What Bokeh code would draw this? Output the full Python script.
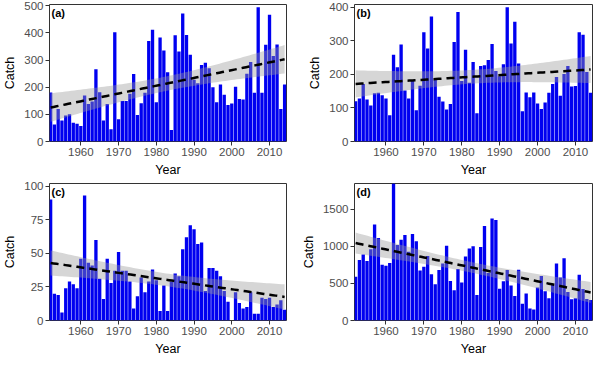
import numpy as np
from bokeh.plotting import figure
from bokeh.layouts import gridplot
from bokeh.models import Label, FixedTicker, Range1d, ColumnDataSource
from bokeh.embed import file_html
from bokeh.resources import INLINE

years = list(range(1952, 2015))

catch_a = [181, 63, 120, 77, 96, 100, 69, 65, 57, 170,
           138, 147, 266, 182, 77, 138, 45, 403, 82, 149,
           149, 176, 249, 98, 141, 180, 370, 412, 145, 383,
           335, 255, 42, 392, 332, 472, 393, 320, 228, 215,
           282, 290, 270, 200, 145, 210, 172, 135, 140, 202,
           157, 155, 250, 293, 180, 495, 180, 357, 467, 315,
           358, 120, 210]
catch_b = [120, 128, 171, 125, 107, 144, 145, 138, 128, 78,
           258, 221, 289, 152, 128, 182, 93, 166, 325, 277,
           372, 185, 133, 119, 95, 112, 296, 386, 180, 273,
           175, 237, 84, 225, 227, 243, 290, 210, 194, 230,
           400, 292, 357, 232, 90, 146, 132, 146, 113, 97,
           116, 145, 171, 192, 136, 201, 225, 164, 165, 325,
           318, 207, 145]
catch_c = [90, 20, 19, 6, 24, 29, 27, 24, 46, 93,
           43, 41, 60, 31, 16, 46, 28, 37, 51, 37,
           37, 29, 9, 18, 32, 21, 29, 38, 30, 7,
           26, 7, 29, 35, 33, 53, 62, 71, 68, 57,
           58, 22, 39, 39, 37, 33, 22, 14, 0, 21,
           13, 9, 10, 21, 5, 5, 17, 16, 17, 10,
           12, 15, 8]
catch_d = [590, 816, 891, 803, 962, 1296, 1114, 754, 739, 778,
           1860, 1018, 1091, 1155, 930, 1168, 1071, 675, 726, 872,
           623, 491, 683, 771, 1011, 533, 409, 696, 514, 865,
           973, 1001, 345, 992, 1275, 640, 1377, 1356, 429, 529,
           681, 472, 330, 686, 225, 365, 161, 150, 445, 602,
           396, 302, 482, 769, 581, 840, 384, 287, 302, 619,
           426, 289, 276]

panel_labels = ["(a)", "(b)", "(c)", "(d)"]
y_ticks_a = [0, 100, 200, 300, 400, 500]
y_ticks_b = [0, 100, 200, 300, 400]
y_ticks_c = [0, 25, 50, 75, 100]
y_ticks_d = [0, 500, 1000, 1500]
y_max = [505, 408, 102, 1850]
x_ticks = [1960, 1970, 1980, 1990, 2000, 2010]

FONT = "Liberation Sans"
X0, X1 = 1951.7, 2014.5


def panel(vals, yticks, ymax, label, width, bl, br):
    p = figure(width=width, height=179, output_backend="svg", toolbar_location=None,
               x_range=Range1d(X0, X1), y_range=Range1d(0, ymax),
               min_border_left=bl, min_border_right=br, min_border_top=4, min_border_bottom=0)
    x = np.array(years, dtype=float)
    y = np.array(vals, dtype=float)
    p.vbar(x=years, top=vals, width=0.88, fill_color="#0000F0", line_color=None)
    # linear fit with 95% confidence band
    n = len(x)
    b1, b0 = np.polyfit(x, y, 1)
    resid = y - (b0 + b1 * x)
    s = np.sqrt(np.sum(resid ** 2) / (n - 2))
    xm = x.mean()
    sxx = np.sum((x - xm) ** 2)
    xs = np.linspace(x.min(), x.max(), 80)
    fit = b0 + b1 * xs
    se = s * np.sqrt(1.0 / n + (xs - xm) ** 2 / sxx)
    t = 2.0
    src = ColumnDataSource(dict(x=xs, fit=fit, lo=fit - t * se, hi=fit + t * se))
    p.varea(x="x", y1="lo", y2="hi", source=src, fill_color="#999999", fill_alpha=0.4)
    p.line(x="x", y="fit", source=src, line_color="black", line_width=2.5, line_dash="8 5")

    p.add_layout(Label(x=X0, y=ymax, text=label, text_baseline="top", text_align="left",
                       x_offset=2, y_offset=-2, text_font=FONT, text_font_size="11px",
                       text_font_style="bold", text_color="black"))

    p.xaxis.ticker = FixedTicker(ticks=x_ticks)
    p.yaxis.ticker = FixedTicker(ticks=yticks)
    p.xaxis.axis_label = "Year"
    p.yaxis.axis_label = "Catch"
    p.xgrid.visible = False
    p.ygrid.visible = False
    p.outline_line_color = "#333333"
    p.outline_line_width = 1
    p.background_fill_color = "white"
    p.border_fill_color = "white"
    for ax in (p.xaxis[0], p.yaxis[0]):
        ax.axis_line_color = None
        ax.major_tick_line_color = "#333333"
        ax.major_tick_out = 4
        ax.major_tick_in = 0
        ax.minor_tick_line_color = None
        ax.major_label_text_color = "#4D4D4D"
        ax.major_label_text_font = FONT
        ax.major_label_text_font_size = "11.5px"
        ax.major_label_standoff = 2
        ax.axis_label_text_font = FONT
        ax.axis_label_text_font_size = "12.5px"
        ax.axis_label_text_font_style = "normal"
        ax.axis_label_text_color = "black"
        ax.axis_label_standoff = 4
    return p


pa = panel(catch_a, y_ticks_a, y_max[0], panel_labels[0], 298, 38, 12)
pb = panel(catch_b, y_ticks_b, y_max[1], panel_labels[1], 297, 40, 3)
pc = panel(catch_c, y_ticks_c, y_max[2], panel_labels[2], 298, 38, 12)
pd = panel(catch_d, y_ticks_d, y_max[3], panel_labels[3], 297, 40, 3)

grid = gridplot([[pa, pb], [pc, pd]], toolbar_location=None)

open("out.html", "w").write(file_html(grid, INLINE))
